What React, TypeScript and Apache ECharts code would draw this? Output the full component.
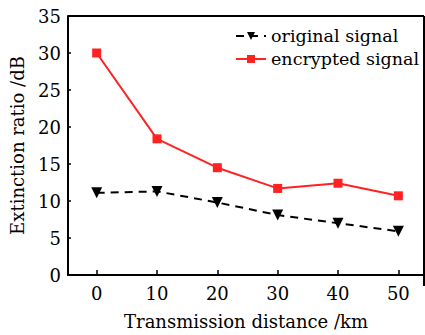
import React, { useEffect, useRef } from "react";
import * as echarts from "echarts";

const distances = [0, 10, 20, 30, 40, 50];
const originalSignal = [11.1, 11.3, 9.8, 8.1, 7.0, 5.9];
const encryptedSignal = [30.0, 18.4, 14.5, 11.7, 12.4, 10.7];
const xTicks = [0, 10, 20, 30, 40, 50];

const FONT = "DejaVu Serif";

export default function App() {
  const ref = useRef<HTMLDivElement>(null);
  useEffect(() => {
    if (!ref.current) return;
    const chart = echarts.init(ref.current, undefined, { renderer: "svg" });
    chart.setOption({
      animation: false,
      backgroundColor: "#ffffff",
      textStyle: { fontFamily: FONT, color: "#000" },
      grid: { left: 68, top: 16, width: 356, height: 270, containLabel: false },
      legend: {
        orient: "vertical",
        left: 230,
        top: 22,
        itemWidth: 30,
        itemHeight: 10,
        itemGap: 5,
        textStyle: { fontFamily: FONT, fontSize: 17.5, color: "#000" },
        data: ["original signal", "encrypted signal"],
      },
      xAxis: {
        type: "value",
        min: -4.75,
        max: 54.25,
        name: "Transmission distance /km",
        nameLocation: "middle",
        nameGap: 37,
        nameTextStyle: { fontFamily: FONT, fontSize: 18, color: "#000" },
        axisLine: { show: true, onZero: false, lineStyle: { color: "#000", width: 2 } },
        axisTick: {
          show: true,
          inside: true,
          length: 5,
          lineStyle: { color: "#000", width: 1.5 },
          customValues: xTicks,
        },
        axisLabel: {
          fontFamily: FONT,
          fontSize: 18,
          color: "#000",
          margin: 9,
          customValues: xTicks,
        },
        splitLine: { show: false },
      },
      yAxis: {
        type: "value",
        min: 0,
        max: 35,
        interval: 5,
        name: "Extinction ratio /dB",
        nameLocation: "middle",
        nameGap: 42,
        nameTextStyle: { fontFamily: FONT, fontSize: 18, color: "#000" },
        axisLine: { show: true, onZero: false, lineStyle: { color: "#000", width: 2 } },
        axisTick: { show: true, inside: true, length: 3, lineStyle: { color: "#000", width: 1.5 } },
        axisLabel: { fontFamily: FONT, fontSize: 18, color: "#000", margin: 7 },
        splitLine: { show: false },
      },
      graphic: [
        {
          type: "line",
          shape: { x1: 68, y1: 16, x2: 424, y2: 16 },
          style: { stroke: "#000", lineWidth: 2 },
        },
        {
          type: "line",
          shape: { x1: 424, y1: 16, x2: 424, y2: 286 },
          style: { stroke: "#000", lineWidth: 2 },
        },
      ],
      series: [
        {
          name: "original signal",
          type: "line",
          data: distances.map((d, i) => [d, originalSignal[i]]),
          symbol: "triangle",
          symbolRotate: 180,
          symbolSize: 11,
          itemStyle: { color: "#000" },
          lineStyle: { color: "#000", width: 2, type: [8, 6] },
        },
        {
          name: "encrypted signal",
          type: "line",
          data: distances.map((d, i) => [d, encryptedSignal[i]]),
          symbol: "rect",
          symbolSize: 9,
          itemStyle: { color: "#ff2222" },
          lineStyle: { color: "#ff2222", width: 2 },
        },
      ],
    });
    return () => chart.dispose();
  }, []);
  return (
    <div
      ref={ref}
      style={{ position: "fixed", left: 0, top: 0, width: 425, height: 335, background: "#fff" }}
    />
  );
}
